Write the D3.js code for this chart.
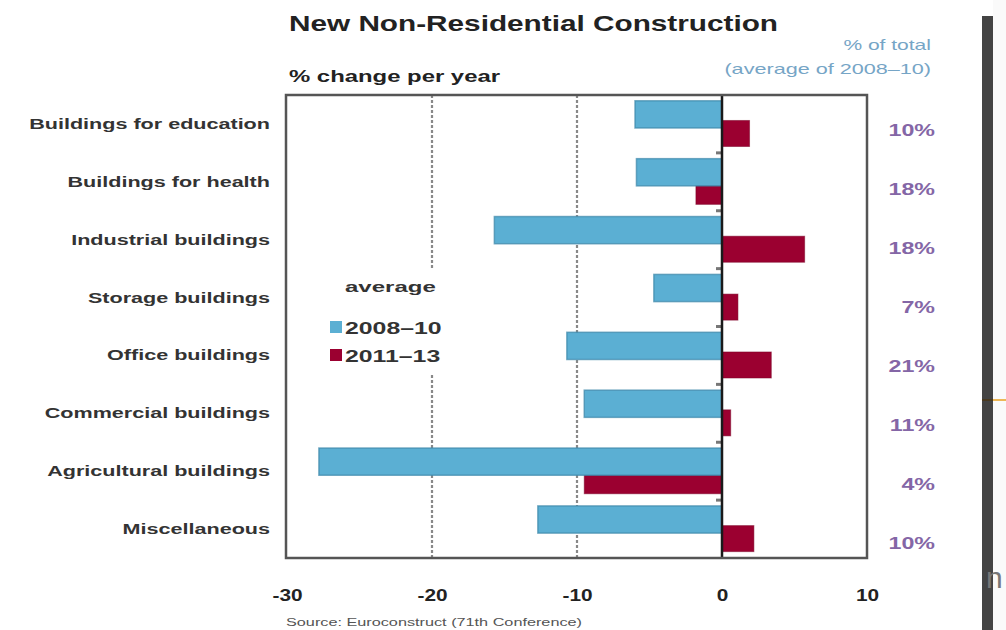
<!DOCTYPE html>
<html>
<head>
<meta charset="utf-8">
<script src="https://cdn.jsdelivr.net/npm/d3@7/dist/d3.min.js"></script>
<style>
  body { margin: 0; background: #fff; }
  svg { display: block; font-family: "Liberation Sans", Arial, sans-serif; }
</style>
</head>
<body>
<div class="chart"></div>
<script>
// data
const categories = ["Buildings for education", "Buildings for health", "Industrial buildings",
  "Storage buildings", "Office buildings", "Commercial buildings", "Agricultural buildings", "Miscellaneous"];
const avg2008_10 = [-6.0, -5.9, -15.7, -4.7, -10.7, -9.5, -27.8, -12.7];
const avg2011_13 = [1.9, -1.8, 5.7, 1.1, 3.4, 0.6, -9.5, 2.2];
const shareOfTotal = ["10%", "18%", "18%", "7%", "21%", "11%", "4%", "10%"];
const xTicks = [-30, -20, -10, 0, 10];
const gridTicks = [-20, -10];
const seriesNames = ["2008\u201310", "2011\u201313"];

const blue = "#5bafd3", red = "#9b0030";

const W = 1006, H = 630;
const svg = d3.select(".chart").append("svg").attr("width", W).attr("height", H);

// the original lettering is much wider than Liberation Sans, stretch it
function stretch(sel, k) {
  sel.each(function() {
    const len = this.getComputedTextLength();
    d3.select(this).attr("textLength", len * k).attr("lengthAdjust", "spacingAndGlyphs");
  });
}

// plot frame
const pLeft = 287, pRight = 867, pTop = 95, pBottom = 558;

const x = d3.scaleLinear().domain([-30, 10]).range([pLeft, pRight]);
const y = d3.scaleBand().domain(categories).range([pTop, pBottom]).padding(0);
const bw = y.bandwidth();

const rows = categories.map((c, i) => ({cat: c, a: avg2008_10[i], b: avg2011_13[i], share: shareOfTotal[i]}));

// dashed gridlines
svg.selectAll(".grid").data(gridTicks).enter().append("line")
  .attr("x1", d => x(d)).attr("x2", d => x(d))
  .attr("y1", pTop).attr("y2", pBottom)
  .attr("stroke", "#888").attr("stroke-width", 2.2)
  .attr("stroke-dasharray", "3,2");

// legend box covers gridline
const lg = svg.append("g");
lg.append("rect").attr("x", 322).attr("y", 268).attr("width", 128).attr("height", 107).attr("fill", "#fff");
lg.append("text").attr("x", 345).attr("y", 292)
  .attr("font-size", 15).attr("font-weight", "bold").attr("fill", "#333").text("average")
  .call(stretch, 1.6);
seriesNames.forEach((s, i) => {
  lg.append("rect").attr("x", 330).attr("y", 321 + i * 28).attr("width", 12).attr("height", 12)
    .attr("fill", i === 0 ? blue : red);
  lg.append("text").attr("x", 345).attr("y", 334 + i * 28)
    .attr("font-size", 16).attr("font-weight", "bold").attr("fill", "#333").text(s)
    .call(stretch, 1.55);
});

// bars: 2011-13 behind, 2008-10 on top
svg.selectAll(".bar2").data(rows).enter().append("rect")
  .attr("class", "bar2")
  .attr("x", d => x(Math.min(0, d.b)))
  .attr("width", d => Math.abs(x(d.b) - x(0)))
  .attr("y", d => y(d.cat) + bw * 0.44)
  .attr("height", bw * 0.45)
  .attr("fill", red)
  .attr("stroke", "#7a0026").attr("stroke-opacity", 0.5).attr("stroke-width", 1);

svg.selectAll(".bar1").data(rows).enter().append("rect")
  .attr("class", "bar1")
  .attr("x", d => x(Math.min(0, d.a)))
  .attr("width", d => Math.abs(x(d.a) - x(0)))
  .attr("y", d => y(d.cat) + bw * 0.1)
  .attr("height", bw * 0.47)
  .attr("fill", blue)
  .attr("stroke", "#3d87aa").attr("stroke-opacity", 0.7).attr("stroke-width", 1.5);

// small ticks on zero line between categories
svg.selectAll(".ztick").data(categories.slice(1)).enter().append("line")
  .attr("x1", x(0) - 6).attr("x2", x(0))
  .attr("y1", d => y(d)).attr("y2", d => y(d))
  .attr("stroke", "#777").attr("stroke-width", 3);

// zero line
svg.append("line").attr("x1", x(0)).attr("x2", x(0)).attr("y1", pTop).attr("y2", pBottom)
  .attr("stroke", "#1a1a1a").attr("stroke-width", 2.5);

// frame
svg.append("rect").attr("x", pLeft - 1).attr("y", pTop).attr("width", pRight - pLeft + 1).attr("height", pBottom - pTop)
  .attr("fill", "none").attr("stroke", "#555").attr("stroke-width", 2.5);

// category labels
svg.append("g").selectAll("text").data(categories).enter().append("text")
  .attr("x", 270).attr("y", d => y(d) + bw / 2 + 5)
  .attr("text-anchor", "end").attr("font-size", 14).attr("font-weight", "bold")
  .attr("fill", "#333").text(d => d)
  .call(stretch, 1.54);

// share of total labels
const yr = d3.scalePoint().domain(categories).range([130, 543]);
svg.append("g").selectAll("text").data(rows).enter().append("text")
  .attr("x", 935).attr("y", d => yr(d.cat) + 6)
  .attr("text-anchor", "end").attr("font-size", 16).attr("font-weight", "bold")
  .attr("fill", "#8466a6").text(d => d.share)
  .call(stretch, 1.45);

// x axis
const xAxis = d3.axisBottom(x).tickValues(xTicks).tickSize(0).tickPadding(0).tickFormat(d => String(d));
const gx = svg.append("g").attr("transform", `translate(0,${pBottom + 32})`).call(xAxis);
gx.select(".domain").remove();
gx.selectAll("text").attr("font-size", 16).attr("font-weight", "bold").attr("fill", "#222")
  .attr("font-family", "\"Liberation Sans\", Arial, sans-serif")
  .call(stretch, 1.3);

// titles
svg.append("text").attr("x", 289).attr("y", 31).attr("font-size", 22).attr("font-weight", "bold")
  .attr("fill", "#222").text("New Non-Residential Construction")
  .attr("textLength", 489).attr("lengthAdjust", "spacingAndGlyphs");
svg.append("text").attr("x", 289).attr("y", 82).attr("font-size", 17).attr("font-weight", "bold")
  .attr("fill", "#222").text("% change per year")
  .attr("textLength", 211).attr("lengthAdjust", "spacingAndGlyphs");
svg.append("text").attr("x", 931).attr("y", 50).attr("text-anchor", "end").attr("font-size", 15)
  .attr("fill", "#76a5c6").text("% of total")
  .call(stretch, 1.4);
svg.append("text").attr("x", 931).attr("y", 74).attr("text-anchor", "end").attr("font-size", 15)
  .attr("fill", "#76a5c6").text("(average of 2008\u201310)")
  .call(stretch, 1.44);
svg.append("text").attr("x", 286).attr("y", 626).attr("font-size", 10)
  .attr("fill", "#555").text("Source: Euroconstruct (71th Conference)")
  .attr("textLength", 296).attr("lengthAdjust", "spacingAndGlyphs");

// slide edge decorations on the right
svg.append("rect").attr("x", 993).attr("y", 0).attr("width", 13).attr("height", H).attr("fill", "#fafafa");
svg.append("rect").attr("x", 982).attr("y", 16).attr("width", 11).attr("height", H - 16).attr("fill", "#444");
svg.append("text").attr("x", 986).attr("y", 588).attr("font-size", 30).attr("fill", "#777").text("n");
svg.append("line").attr("x1", 982).attr("x2", 1006).attr("y1", 400).attr("y2", 400)
  .attr("stroke", "#e8a020").attr("stroke-width", 1.5);
svg.append("rect").attr("x", 982).attr("y", 399).attr("width", 11).attr("height", 2).attr("fill", "#4a3a20");
</script>
</body>
</html>
